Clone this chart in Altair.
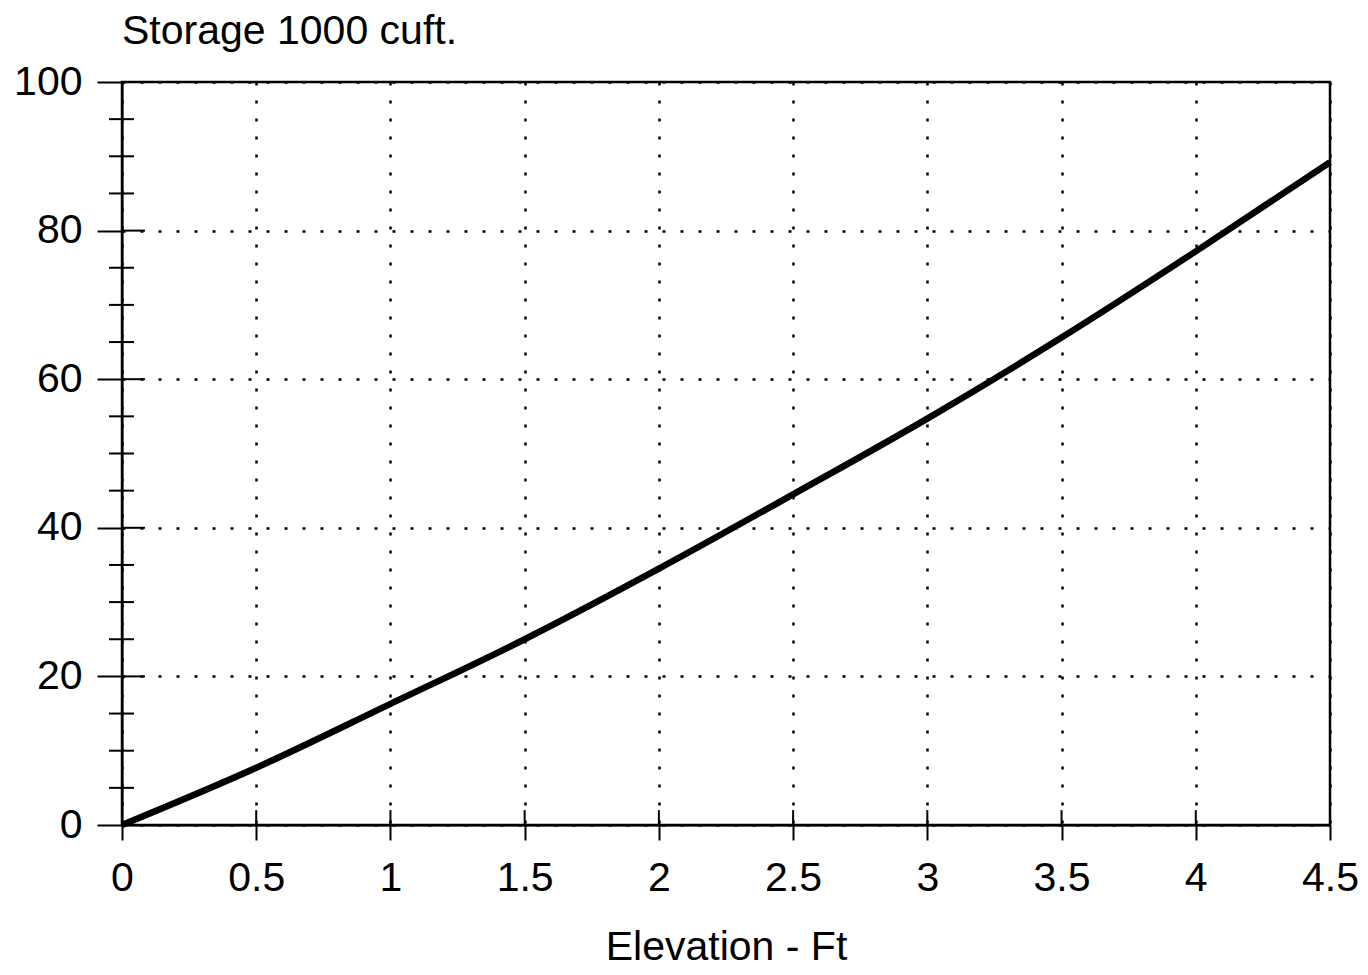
import altair as alt
import pandas as pd

# ---- data ----
elevation = [0, 0.5, 1.0, 1.5, 2.0, 2.5, 3.0, 3.5, 4.0, 4.5]
storage = [0, 7.7, 16.3, 25.0, 34.5, 44.5, 54.7, 65.6, 77.2, 89.2]

x_ticks = [0, 0.5, 1, 1.5, 2, 2.5, 3, 3.5, 4, 4.5]
y_ticks = [0, 20, 40, 60, 80, 100]
y_minor = [5, 10, 15, 25, 30, 35, 45, 50, 55, 65, 70, 75, 85, 90, 95]

FONT = "Liberation Sans"
FS = 41

curve = pd.DataFrame({"elev": elevation, "stor": storage})
minor_df = pd.DataFrame({"stor": y_minor})
major_y_df = pd.DataFrame({"stor": y_ticks})
major_x_df = pd.DataFrame({"elev": x_ticks})

xscale = alt.Scale(domain=[0, 4.5], nice=False, zero=False)
yscale = alt.Scale(domain=[0, 100], nice=False)

x_axis = alt.Axis(
    values=x_ticks, format="~g", title="Elevation - Ft",
    grid=True, gridColor="black", gridDash=[3, 15], gridWidth=2.5, gridOpacity=1,
    domainColor="black", domainWidth=2,
    tickColor="black", tickWidth=2, tickSize=15,
    labelFont=FONT, labelFontSize=FS, labelColor="black", labelPadding=18,
    labelFlush=False, labelOverlap=False,
    titleFont=FONT, titleFontSize=FS, titleFontWeight="normal", titleColor="black",
    titlePadding=29,
)
y_axis = alt.Axis(
    values=y_ticks, title=None,
    grid=True, gridColor="black", gridDash=[3, 15], gridWidth=2.5, gridOpacity=1,
    domainColor="black", domainWidth=2,
    tickColor="black", tickWidth=2, tickSize=25,
    labelFont=FONT, labelFontSize=FS, labelColor="black", labelPadding=15,
    labelFlush=False, labelOverlap=False,
)

line = alt.Chart(curve).mark_line(
    color="black", strokeWidth=6.5, interpolate="monotone"
).encode(
    x=alt.X("elev:Q", scale=xscale, axis=x_axis),
    y=alt.Y("stor:Q", scale=yscale, axis=y_axis),
)

minor_ticks = alt.Chart(minor_df).mark_rule(color="black", strokeWidth=2).encode(
    y=alt.Y("stor:Q", scale=yscale),
    x=alt.value(-13),
    x2=alt.value(12),
)

inner_y_ticks = alt.Chart(major_y_df).mark_rule(color="black", strokeWidth=2).encode(
    y=alt.Y("stor:Q", scale=yscale),
    x=alt.value(0),
    x2=alt.value(23),
)

inner_x_ticks = alt.Chart(major_x_df).mark_rule(color="black", strokeWidth=2).encode(
    x=alt.X("elev:Q", scale=xscale),
    y=alt.datum(0),
    y2=alt.datum(2),
)

chart = alt.layer(minor_ticks, inner_y_ticks, inner_x_ticks, line).properties(
    width=1208,
    height=743,
    background="white",
    title=alt.TitleParams(
        "Storage 1000 cuft.", anchor="start", frame="group",
        font=FONT, fontSize=FS, fontWeight="normal", color="black",
        offset=8,
    ),
    autosize=alt.AutoSizeParams(type="none"),
    padding={"left": 114, "top": 74, "right": 30, "bottom": 142},
).configure_view(
    stroke="black", strokeWidth=2.5
)

chart.save("out.html", embed_options={"renderer": "svg", "actions": False})
